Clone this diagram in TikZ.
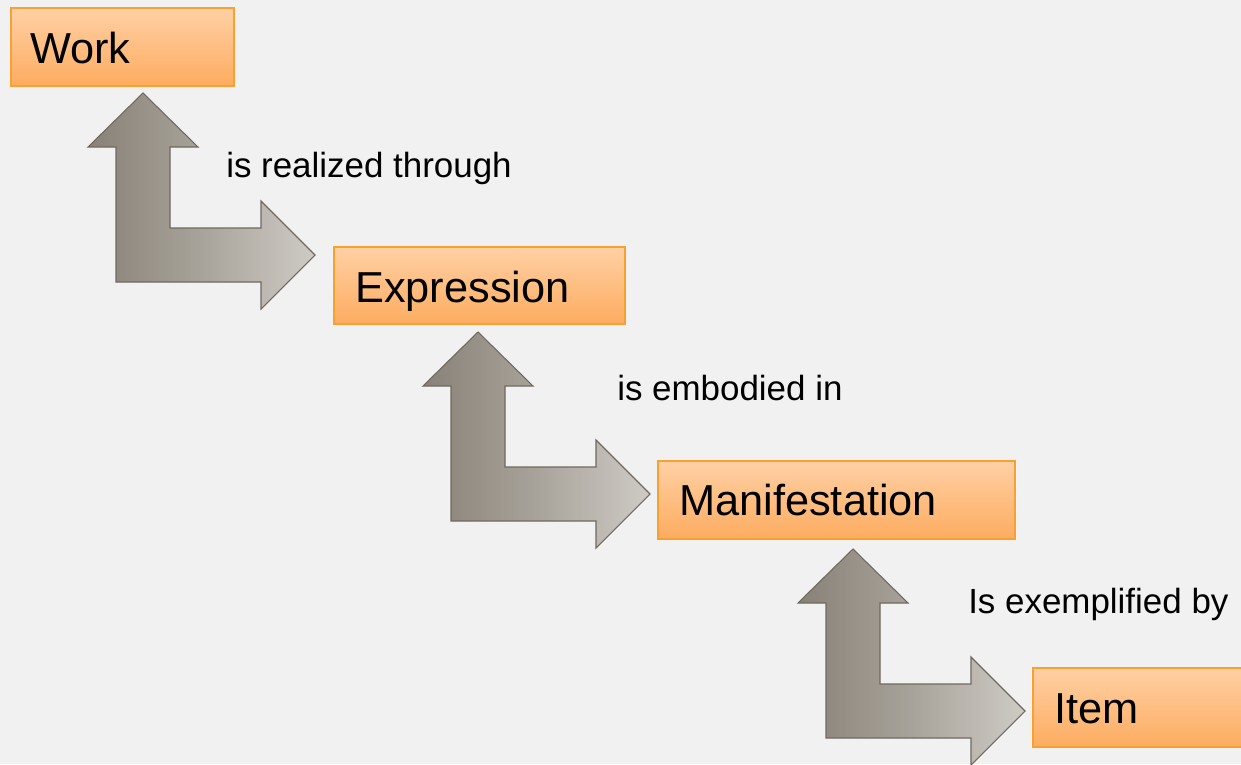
\documentclass[tikz,border=0pt]{standalone}
\usepackage{fontspec}
\setmainfont{Liberation Sans}
\definecolor{bg}{RGB}{241,241,241}
\definecolor{boxtop}{RGB}{255,208,164}
\definecolor{boxbot}{RGB}{253,172,96}
\definecolor{boxline}{RGB}{248,160,48}
\definecolor{arrL}{RGB}{136,129,119}
\definecolor{arrM}{RGB}{168,163,154}
\definecolor{arrR}{RGB}{206,203,197}
\definecolor{arrline}{RGB}{112,105,96}
\tikzset{
  fbox/.style={draw=boxline, line width=1.5pt, top color=boxtop, bottom color=boxbot,
    anchor=north west, inner sep=0pt},
  boxtext/.style={anchor=base west, inner sep=0pt, font=\fontsize{32.5}{36}\selectfont},
  reltext/.style={anchor=base west, inner sep=0pt, font=\fontsize{26.2}{30}\selectfont},
  bentarrow/.style={draw=arrline, line width=0.8pt, left color=arrL, right color=arrR, middle color=arrM, line join=miter}
}
\newcommand\bentarrowat[1]{%
  \path[bentarrow] (#1) -- ++(55,54) -- ++(-28,0) -- ++(0,81) -- ++(91,0) -- ++(0,-27)
    -- ++(54,54) -- ++(-54,54) -- ++(0,-27) -- ++(-145,0) -- ++(0,-135) -- ++(-28,0) -- cycle;}
\begin{document}
\begin{tikzpicture}[x=0.75pt, y=-0.75pt]
\useasboundingbox (0,0) rectangle (1241,764);
\fill[bg] (0,0) rectangle (1241,764);

% boxes
\node[fbox, minimum width={223*0.75pt}, minimum height={78*0.75pt}] (work) at (10,7) {};
\node[fbox, minimum width={291*0.75pt}, minimum height={77*0.75pt}] (expr) at (333,246) {};
\node[fbox, minimum width={357*0.75pt}, minimum height={78*0.75pt}] (mani) at (657,460) {};
\node[fbox, minimum width={240*0.75pt}, minimum height={79*0.75pt}] (item) at (1032,667) {};

\node[boxtext] (workt) at (30,63) {Work};
\node[boxtext] (exprt) at (355,302) {Expression};
\node[boxtext] (manit) at (679,515) {Manifestation};
\node[boxtext] (itemt) at (1054,723) {Item};

% bent arrows
\coordinate (t1) at (143,93);
\coordinate (t2) at (478,332);
\coordinate (t3) at (853,549);
\bentarrowat{t1}
\bentarrowat{t2}
\bentarrowat{t3}

% relation labels
\node[reltext] (r1) at (226,177) {is realized through};
\node[reltext] (r2) at (617,400) {is embodied in};
\node[reltext] (r3) at (968,613) {Is exemplified by};
\end{tikzpicture}
\end{document}
